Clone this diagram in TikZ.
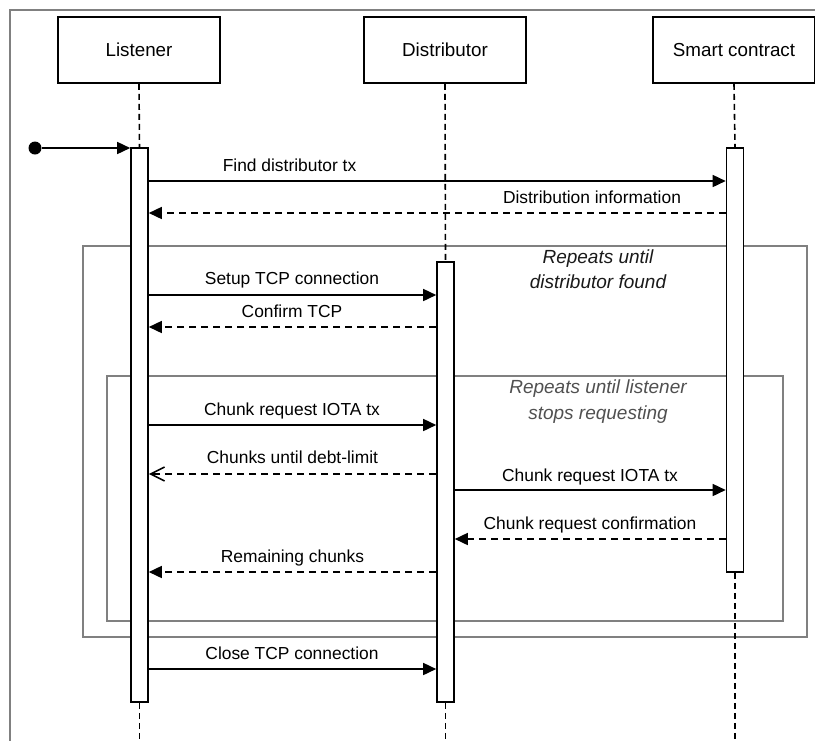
\documentclass[tikz,border=0pt]{standalone}
\usepackage{fontspec}
\setmainfont{Liberation Sans}
\usetikzlibrary{arrows.meta}
\definecolor{framegray}{HTML}{808080}
\definecolor{notegray}{HTML}{505050}

\begin{document}
\begin{tikzpicture}[x=1pt,y=-1pt,
  participant/.style={draw, line width=1.6pt, fill=white, minimum width=162pt,
    minimum height=66pt, inner sep=0pt, font=\fontsize{18.8}{22}\selectfont},
  act/.style={draw, line width=1.6pt, fill=white, minimum width=17pt, inner sep=0pt},
  lifeline/.style={line width=1.6pt, dash pattern=on 6pt off 4pt},
  loopframe/.style={draw=framegray, line width=1.7pt},
  msg/.style={line width=1.6pt, -{Triangle[length=13pt,width=12pt]}},
  reply/.style={msg, dash pattern=on 7pt off 5pt},
  openreply/.style={line width=1.6pt, dash pattern=on 7pt off 5pt,
    -{Straight Barb[length=14pt,width=14pt]}},
  lbl/.style={anchor=base, inner sep=0pt, font=\fontsize{17.4}{20}\selectfont},
  note/.style={anchor=base, inner sep=0pt, font=\fontsize{19}{23}\selectfont\itshape},
]
\useasboundingbox (0,0) rectangle (815,740);

% page border (runs off the right and bottom edges)
\draw[framegray, line width=1.7pt] (815,10) -- (10,10) -- (10,745);

% loop frames
\draw[loopframe] (83,246) rectangle (807,637);
\draw[loopframe] (107,376) rectangle (783,621);
\node[note, text=black!90] (n1a) at (598,263) {Repeats until};
\node[note, text=black!90] (n1b) at (598,288) {distributor found};
\node[note, text=notegray] (n2a) at (598,393) {Repeats until listener};
\node[note, text=notegray] (n2b) at (598,419) {stops requesting};

% participants
\node[participant] (L) at (139,50) {Listener};
\node[participant] (D) at (445,50) {Distributor};
\node[participant] (S) at (734,50) {Smart contract};

% activation bars
\node[act, minimum height=554pt] (actL) at (139.5,425) {};
\node[act, minimum height=440pt] (actD) at (445.5,482) {};
\node[act, minimum height=424pt] (actS) at (735,360) {};

\coordinate (bottom) at (0,745);

% lifelines
\draw[lifeline] (L.south) -- (actL.north);
\draw[lifeline] (actL.south) -- (actL.south |- bottom);
\draw[lifeline] (D.south) -- (actD.north);
\draw[lifeline] (actD.south) -- (actD.south |- bottom);
\draw[lifeline] (S.south) -- (actS.north);
\draw[lifeline] (actS.south) -- (actS.south |- bottom);

% initial message
\node[circle, fill=black, inner sep=0pt, minimum size=13pt] (start) at (35,148) {};
\draw[msg] (start) -- (actL.west |- start);

% message rows
\coordinate (y1) at (0,181);
\coordinate (y2) at (0,213);
\coordinate (y3) at (0,295);
\coordinate (y4) at (0,327);
\coordinate (y5) at (0,425);
\coordinate (y6) at (0,474);
\coordinate (y7) at (0,490);
\coordinate (y8) at (0,539);
\coordinate (y9) at (0,572);
\coordinate (y10) at (0,669);

\draw[msg] (actL.east |- y1) -- (actS.west |- y1);
\node[lbl] (t1) at (289.5,171) {Find distributor tx};
\draw[reply] (actS.west |- y2) -- (actL.east |- y2);
\node[lbl] (t2) at (592,203) {Distribution information};

\draw[msg] (actL.east |- y3) -- (actD.west |- y3);
\node[lbl] (t3) at (292,284) {Setup TCP connection};
\draw[reply] (actD.west |- y4) -- (actL.east |- y4);
\node[lbl] (t4) at (292,317) {Confirm TCP};

\draw[msg] (actL.east |- y5) -- (actD.west |- y5);
\node[lbl] (t5) at (292,415) {Chunk request IOTA tx};
\draw[openreply] (actD.west |- y6) -- (actL.east |- y6);
\node[lbl] (t6) at (292.5,463) {Chunks until debt-limit};
\draw[msg] (actD.east |- y7) -- (actS.west |- y7);
\node[lbl] (t7) at (590,481) {Chunk request IOTA tx};
\draw[reply] (actS.west |- y8) -- (actD.east |- y8);
\node[lbl] (t8) at (590,529) {Chunk request confirmation};
\draw[reply] (actD.west |- y9) -- (actL.east |- y9);
\node[lbl] (t9) at (292.5,562) {Remaining chunks};

\draw[msg] (actL.east |- y10) -- (actD.west |- y10);
\node[lbl] (t10) at (292,659) {Close TCP connection};
\end{tikzpicture}
\end{document}
